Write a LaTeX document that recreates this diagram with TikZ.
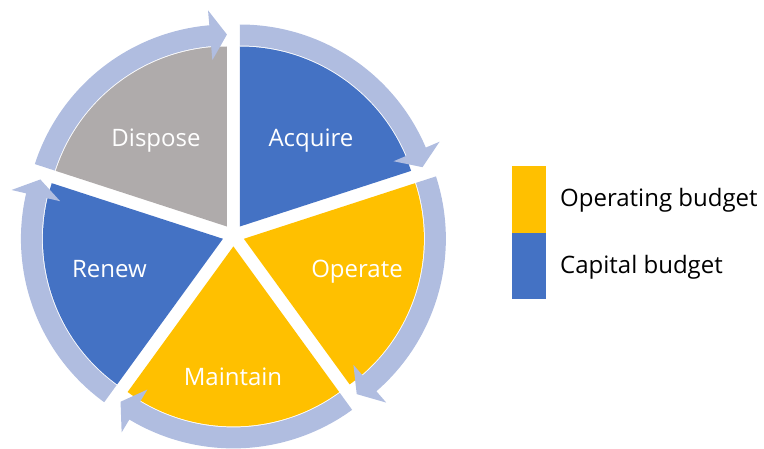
\documentclass[tikz,border=0pt]{standalone}
\usepackage{fontspec}
\setmainfont{Open Sans}
\definecolor{cblue}{RGB}{68,114,196}
\definecolor{cyellow}{RGB}{255,192,0}
\definecolor{cgray}{RGB}{175,171,171}
\definecolor{cring}{RGB}{176,189,224}
\begin{document}
\begin{tikzpicture}[x=1pt,y=1pt,
  seglabel/.style={text=white,font=\fontsize{24}{28}\selectfont,inner sep=0pt,anchor=base},
  legtext/.style={text=black,font=\fontsize{24}{28}\selectfont,inner sep=0pt,anchor=base west},
  legbox/.style={minimum width=33.5pt,inner sep=0pt,anchor=north west}]
\useasboundingbox (0,0) rectangle (764,448);
% sectors
\foreach \k/\col in {0/cblue,1/cyellow,2/cyellow,3/cblue,4/cgray} {
  \pgfmathsetmacro\as{90-72*\k}
  \pgfmathsetmacro\ae{\as-72}
  \pgfmathsetmacro\bi{\as-36}
  \begin{scope}[shift={({233.4+11*cos(\bi)},{212.6+11*sin(\bi)})}]
    \fill[\col] (0,0) -- (\as:180) arc[start angle=\as,end angle=\ae,radius=180] -- cycle;
  \end{scope}
}
% circular arrows
\foreach \k in {0,1,2,3,4} {
  \pgfmathsetmacro\as{90-72*\k}
  \pgfmathsetmacro\ae{\as-72}
  \pgfmathsetmacro\ab{\ae+5}
  \pgfmathsetmacro\bi{\as-36}
  \begin{scope}[shift={({233.4+11*cos(\bi)},{212.6+11*sin(\bi)})}]
    \fill[cring] (\as:181) -- (\as:202) arc[start angle=\as,end angle=\ab,radius=202]
      -- (\ab:217) -- (\ae:192) -- (\ab:167) -- (\ab:181)
      arc[start angle=\ab,end angle=\as,radius=181] -- cycle;
  \end{scope}
}
% labels
\node[seglabel] (acq) at (311,301) {Acquire};
\node[seglabel] (dis) at (156,301) {Dispose};
\node[seglabel] (ope) at (357,171) {Operate};
\node[seglabel] (ren) at (109.5,171) {Renew};
\node[seglabel] (mai) at (233,63) {Maintain};
% legend
\node[legbox,fill=cyellow,minimum height=67pt] (lop) at (512,282) {};
\node[legbox,fill=cblue,minimum height=66pt] (lcap) at (512,215) {};
\node[legtext] (top) at (560,241) {Operating budget};
\node[legtext] (tcap) at (560,175) {Capital budget};
\end{tikzpicture}
\end{document}
